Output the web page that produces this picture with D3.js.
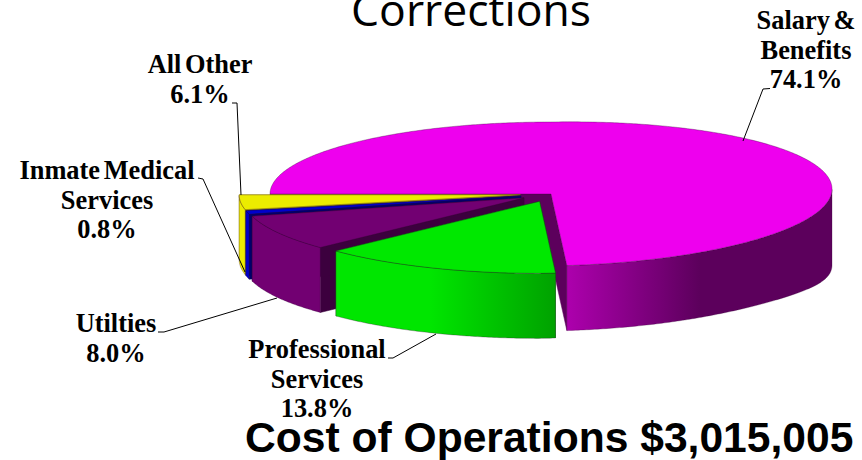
<!DOCTYPE html>
<html><head><meta charset="utf-8">
<script src="https://cdn.jsdelivr.net/npm/d3@7/dist/d3.min.js"></script>
<style>html,body{margin:0;padding:0;background:#fff;overflow:hidden}svg{display:block}</style>
</head><body><svg id="c" width="862" height="460"></svg>
<script>
// slice shares as drawn in the picture (the "All Other" wedge is drawn smaller than its printed label)
const categories = ["Salary & Benefits","Professional Services","Utilties","Inmate Medical Services","All Other"];
const shares = [74.1, 13.8, 8.0, 0.8, 3.3];
const printedPercents = ["74.1%","13.8%","8.0%","0.8%","6.1%"];
const topColors = ["#ee00ee","#00e800","#720072","#0000cc","#ecec00"];
const faceColors = ["#5c005c","#008800","#3c003e","#00006a","#b8b800"];
const exploded = [0, 31, 31, 31, 31];
const labelLines = [["Salary &","Benefits"],["Professional","Services"],["Utilties"],["Inmate Medical","Services"],["All Other"]];
const labelX = [806, 317, 116, 107, 200];
const labelY = [29, 358, 332, 179, 73];
const leaders = [
  [[770,88.5],[763,89],[743,141]],
  [[388,358],[393,358],[436,334]],
  [[158,332],[164,332],[277,298]],
  [[198,178],[203,179],[245,272]],
  [[232,103],[237,103],[241,195]]
];
const W=862,H=460,cx=551,cy=194,rx=281,ry=72,baseDepth=65;
const svg=d3.select("#c");
const defs=svg.append("defs");
function grad(id,x1,x2,stops){
  const g=defs.append("linearGradient").attr("id",id).attr("gradientUnits","userSpaceOnUse")
    .attr("x1",x1).attr("x2",x2).attr("y1",0).attr("y2",0);
  stops.forEach(s=>g.append("stop").attr("offset",s[0]).attr("stop-color",s[1]));
}
grad("wall0",567,700,[[0,"#ad00ad"],[1,"#5c005c"]]);
grad("wall1",430,555,[[0,"#00e600"],[1,"#00a200"]]);
const wallFill=["url(#wall0)","url(#wall1)",topColors[2],topColors[3],topColors[4]];
const pie=d3.pie().sort(null).startAngle(-Math.PI/2).endAngle(1.5*Math.PI);
const arcs=pie(shares);
const line=d3.line();
const tilt=a=>{const s=Math.sin(a);return s>0?5*s:0;};
const depthAt=a=>{const s=Math.sin(a);return baseDepth+(s>0?11*Math.pow(s,8):0);};
const stroke="rgba(50,0,50,.55)";
const layer=svg.append("g");
const order=[0,4,3,2,1];
order.forEach(i=>{
  const d=arcs[i],mid=(d.startAngle+d.endAngle)/2,E=exploded[i];
  const ox=cx+E*Math.sin(mid),oy=cy-E*(ry/rx)*Math.cos(mid);
  const P=a=>[ox+rx*Math.sin(a),oy-ry*Math.cos(a)-tilt(a)];
  const steps=Math.max(6,Math.ceil((d.endAngle-d.startAngle)/0.01));
  const t=d3.scaleLinear().domain([0,steps]).range([d.startAngle,d.endAngle]);
  const angles=d3.range(steps+1).map(t);
  const g=layer.append("g");
  [d.startAngle,d.endAngle].forEach(a=>{
    const p=P(a),dep=baseDepth;
    g.append("path").attr("d",line([[ox,oy],p,[p[0],p[1]+dep],[ox,oy+dep]])+"Z")
      .attr("fill",faceColors[i]).attr("stroke",faceColors[i]).attr("stroke-width",.5);
  });
  const front=angles.filter(a=>a>=Math.PI/2&&a<=1.5*Math.PI);
  if(front.length){
    const top=front.map(P),bot=front.map(a=>{const p=P(a);return [p[0],p[1]+depthAt(a)];}).reverse();
    g.append("path").attr("d",line(top.concat(bot))+"Z").attr("fill",wallFill[i]).attr("stroke",stroke).attr("stroke-width",.5);
  }
  g.append("path").attr("d",line([[ox,oy]].concat(angles.map(P)))+"Z")
    .attr("fill",topColors[i]).attr("stroke",stroke).attr("stroke-width",.6);
});
const lg=svg.append("g").attr("fill","none").attr("stroke","#000").attr("stroke-width",1);
leaders.forEach(l=>lg.append("path").attr("d",line(l)));
const tg=svg.append("g").attr("font-family","'Liberation Serif',serif").attr("font-weight","700").attr("font-size",26.4)
  .attr("text-anchor","middle").attr("fill","#000").attr("word-spacing",-3);
categories.forEach((c,i)=>{
  const rows=labelLines[i].concat([printedPercents[i]]);
  rows.forEach((r,j)=>tg.append("text").attr("x",labelX[i]).attr("y",labelY[i]+j*29.7).text(r));
});
svg.append("text").attr("x",471).attr("y",26).attr("text-anchor","middle")
  .attr("font-family","'Open Sans',sans-serif").attr("font-size",44.5).attr("fill","#000").text("Corrections");
svg.append("text").attr("x",245).attr("y",452)
  .attr("font-family","'Liberation Sans',sans-serif").attr("font-weight","700").attr("font-size",42.6).attr("fill","#000").text("Cost of Operations $3,015,005");
</script></body></html>
